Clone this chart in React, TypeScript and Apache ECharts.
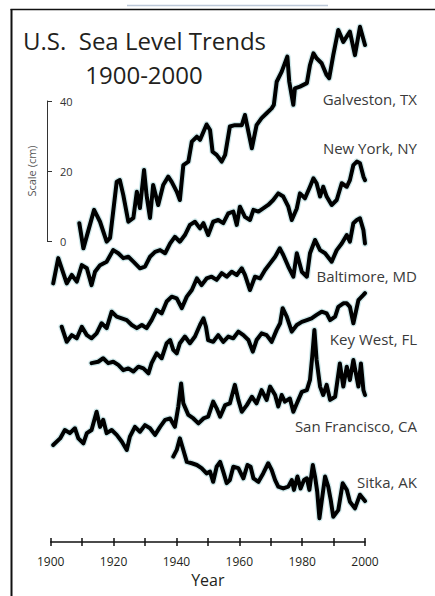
import React, { useEffect, useRef } from 'react';
import * as echarts from 'echarts';

// Station names (top to bottom) and the vertical offsets (cm) used to stack them
const stationNames = ['Galveston, TX', 'New York, NY', 'Baltimore, MD', 'Key West, FL', 'San Francisco, CA', 'Sitka, AK'];
const stationOffsets = [0, -10, -25, -35, -55, -65];

// Relative sea level readings [year, cm]
const galveston: number[][] = [
  [1909.1, 5.1], [1910.4, -2.1], [1913.8, 8.9], [1915.7, 5.5], [1917.8, -0.2], [1918.9, 0.9], [1921.0, 16.9],
  [1922.0, 17.4], [1923.1, 13.1], [1924.7, 5.5], [1926.3, 6.6], [1927.4, 14.1], [1928.4, 9.4], [1929.7, 20.3],
  [1930.5, 13.1], [1931.6, 6.6], [1932.6, 16.0], [1934.2, 10.3], [1935.8, 16.0], [1937.4, 18.4], [1938.5, 16.9],
  [1940.1, 14.1], [1941.1, 11.7], [1942.2, 21.7], [1943.8, 22.7], [1944.9, 28.4], [1946.5, 29.8], [1947.5, 28.9],
  [1949.6, 33.3], [1950.7, 31.7], [1951.5, 25.5], [1952.8, 24.6], [1954.4, 22.7], [1955.5, 24.6], [1957.0, 32.7],
  [1958.6, 33.1], [1960.8, 33.1], [1961.8, 36.0], [1964.0, 26.5], [1965.5, 33.1], [1967.1, 35.1], [1968.7, 36.5],
  [1970.3, 37.9], [1971.0, 38.9], [1971.9, 45.5], [1973.5, 48.4], [1975.3, 52.7], [1975.9, 45.5], [1977.2, 38.9],
  [1977.7, 43.6], [1979.3, 44.1], [1981.5, 45.1], [1982.5, 50.3], [1983.6, 53.6], [1984.6, 52.2], [1986.2, 50.8],
  [1987.8, 47.4], [1988.6, 46.5], [1989.9, 53.1], [1991.5, 60.3], [1993.1, 56.9], [1995.2, 59.8], [1996.8, 53.1],
  [1998.4, 61.2], [2000.0, 56.0],
];

const newYork: number[][] = [
  [1900.8, -2.1], [1902.4, 5.1], [1904.0, 0.8], [1905.1, -2.1], [1906.7, 0.3], [1908.3, -1.6], [1909.9, 3.1],
  [1911.5, 2.2], [1913.0, -2.6], [1914.1, 1.2], [1915.7, 3.1], [1917.8, 4.1], [1919.9, 7.4], [1921.5, 6.5],
  [1923.1, 5.1], [1924.7, 5.5], [1926.3, 4.1], [1928.4, 2.2], [1930.0, 2.7], [1931.6, 5.5], [1933.2, 6.9],
  [1934.8, 7.4], [1936.4, 6.5], [1938.0, 9.3], [1939.5, 11.2], [1941.1, 9.8], [1942.7, 11.7], [1944.3, 14.6],
  [1945.9, 15.5], [1947.5, 13.6], [1948.6, 15.1], [1950.1, 11.7], [1951.7, 15.5], [1953.3, 16.0], [1954.9, 15.1],
  [1956.5, 17.9], [1958.1, 18.4], [1959.2, 14.6], [1960.2, 19.8], [1961.8, 16.9], [1963.4, 16.0], [1964.5, 18.9],
  [1966.1, 18.4], [1967.6, 19.3], [1969.2, 20.3], [1970.8, 21.7], [1972.4, 23.6], [1974.0, 22.7], [1975.6, 19.8],
  [1976.7, 16.0], [1978.3, 19.3], [1979.3, 23.6], [1980.9, 22.2], [1982.5, 25.5], [1983.6, 27.9], [1984.6, 26.5],
  [1985.7, 22.7], [1986.7, 25.5], [1987.8, 22.7], [1989.4, 20.3], [1991.0, 21.7], [1992.6, 26.5], [1994.2, 25.5],
  [1995.2, 27.4], [1996.3, 31.7], [1997.4, 32.7], [1998.4, 32.2], [1999.5, 28.4], [2000.0, 27.4],
];

const baltimore: number[][] = [
  [1903.5, 0.5], [1905.1, -3.8], [1906.7, -1.9], [1908.3, -2.8], [1909.9, 0.5], [1911.5, -1.9], [1913.0, -2.8],
  [1914.6, -1.4], [1916.2, 1.5], [1917.8, 0.1], [1919.4, 4.8], [1921.0, 3.4], [1922.6, 2.9], [1924.2, 2.4],
  [1925.8, 1.0], [1927.4, 0.1], [1929.0, 1.0], [1930.5, 0.1], [1932.1, 2.4], [1933.7, 5.3], [1935.3, 4.3],
  [1936.9, 7.7], [1938.5, 9.1], [1940.1, 8.6], [1941.7, 5.8], [1943.3, 9.1], [1944.9, 11.0], [1946.5, 14.3],
  [1948.0, 12.4], [1949.6, 14.3], [1951.2, 14.8], [1952.8, 13.9], [1954.4, 15.8], [1956.0, 14.8], [1957.6, 16.2],
  [1959.2, 15.3], [1960.8, 17.2], [1961.8, 15.3], [1963.4, 11.0], [1965.0, 14.8], [1966.6, 14.3], [1968.2, 16.7],
  [1969.8, 18.6], [1971.4, 20.5], [1972.9, 22.9], [1974.0, 21.0], [1975.6, 17.7], [1977.2, 14.8], [1978.3, 21.5],
  [1979.9, 16.2], [1981.5, 14.8], [1982.5, 21.5], [1984.1, 25.3], [1985.7, 22.4], [1987.3, 21.5], [1989.4, 19.1],
  [1991.0, 22.4], [1992.6, 24.3], [1994.2, 26.7], [1995.2, 24.8], [1996.3, 30.1], [1997.4, 31.0], [1998.4, 31.5],
  [1999.5, 28.1], [2000.0, 24.3],
];

const keyWest: number[][] = [
  [1913.0, 0.1], [1915.1, 0.5], [1916.7, 1.5], [1918.3, 0.1], [1919.9, 0.5], [1921.5, -0.4], [1923.1, -1.9],
  [1924.7, -1.4], [1926.3, -2.3], [1927.9, -0.9], [1929.5, -1.4], [1931.1, -2.8], [1932.1, 0.1], [1933.7, 2.9],
  [1935.3, 1.5], [1936.9, 5.8], [1938.0, 6.7], [1939.0, 3.9], [1940.1, 2.9], [1941.1, 5.8], [1942.7, 7.7],
  [1944.3, 5.8], [1945.9, 7.7], [1947.5, 11.0], [1948.6, 12.9], [1949.4, 10.5], [1950.1, 6.7], [1951.7, 6.2],
  [1953.3, 8.1], [1954.9, 6.2], [1956.5, 7.7], [1958.1, 7.2], [1959.7, 9.1], [1961.3, 8.1], [1962.9, 6.7],
  [1964.3, 3.4], [1965.5, 6.7], [1967.1, 8.6], [1968.7, 8.1], [1970.3, 6.2], [1971.9, 9.6], [1973.0, 11.5],
  [1973.8, 15.8], [1975.1, 13.4], [1976.7, 9.1], [1978.3, 11.0], [1979.9, 11.9], [1981.5, 12.4], [1983.0, 12.9],
  [1984.6, 13.9], [1986.2, 14.8], [1987.8, 14.3], [1988.9, 12.4], [1990.5, 13.4], [1991.5, 16.2], [1993.1, 17.2],
  [1994.2, 17.2], [1995.2, 16.2], [1996.3, 11.5], [1997.9, 18.1], [1999.5, 19.6], [2000.0, 20.1],
];

const sanFrancisco: number[][] = [
  [1900.8, -3.3], [1903.0, -1.4], [1904.5, 1.0], [1906.1, 0.1], [1907.7, 1.5], [1908.8, -1.4], [1910.4, -2.8],
  [1911.5, 0.1], [1913.0, 1.0], [1914.6, 6.2], [1915.7, 1.9], [1916.7, 3.9], [1917.8, 0.1], [1919.4, 1.0],
  [1921.0, -0.4], [1922.6, -2.3], [1924.2, -4.7], [1925.2, -0.9], [1926.8, 1.9], [1928.4, 0.5], [1930.0, 2.4],
  [1931.6, 1.5], [1933.2, -0.4], [1934.8, 1.9], [1936.4, 3.9], [1938.0, 4.3], [1939.5, 1.9], [1940.6, 7.7],
  [1941.5, 14.3], [1942.2, 8.6], [1943.8, 5.3], [1945.4, 4.3], [1947.0, 2.9], [1948.6, 4.3], [1950.1, 4.8],
  [1951.7, 9.1], [1952.8, 7.2], [1953.9, 4.8], [1955.5, 8.1], [1957.0, 8.6], [1958.6, 13.9], [1959.7, 9.6],
  [1960.8, 6.2], [1962.4, 8.1], [1964.0, 10.5], [1965.5, 8.6], [1967.1, 12.4], [1968.7, 9.6], [1969.8, 13.4],
  [1971.4, 11.0], [1972.4, 7.7], [1973.5, 11.0], [1974.5, 9.1], [1976.1, 10.0], [1977.2, 6.2], [1978.3, 8.6],
  [1979.9, 11.9], [1981.5, 12.4], [1982.5, 15.3], [1983.2, 21.9], [1983.9, 29.6], [1984.6, 21.0], [1985.7, 13.4],
  [1986.7, 11.0], [1987.8, 13.9], [1988.9, 9.6], [1990.5, 10.5], [1992.0, 20.0], [1993.1, 13.4], [1994.2, 19.1],
  [1995.2, 15.3], [1996.3, 21.0], [1997.9, 13.4], [1998.7, 20.0], [1999.5, 12.4], [2000.0, 11.0],
];

const sitka: number[][] = [
  [1939.0, 3.4], [1940.1, 5.3], [1941.1, 8.6], [1942.2, 5.3], [1943.3, 1.9], [1944.9, 1.5], [1946.5, 1.0],
  [1948.0, 0.1], [1949.6, -1.4], [1950.7, -0.9], [1951.7, -3.8], [1952.8, 0.5], [1953.9, 1.9], [1954.9, -0.9],
  [1956.0, -4.2], [1957.0, -3.3], [1958.1, 0.5], [1959.7, 0.1], [1961.3, -2.8], [1962.6, 1.0], [1963.6, 0.5],
  [1964.5, -2.8], [1966.1, -3.8], [1967.6, -1.4], [1969.2, 1.5], [1970.3, -0.4], [1971.4, -3.3], [1972.4, -5.2],
  [1974.0, -5.7], [1975.6, -5.2], [1976.7, -3.3], [1977.4, -6.1], [1978.5, -2.3], [1979.5, -5.7], [1980.6, -3.3],
  [1981.5, -2.8], [1982.3, -6.1], [1983.4, 1.0], [1984.1, -2.3], [1984.8, -6.6], [1985.5, -14.2], [1986.2, -9.5],
  [1987.3, -2.3], [1988.3, -5.2], [1989.1, -9.0], [1989.9, -13.8], [1991.5, -11.9], [1992.9, -4.2], [1994.2, -6.1],
  [1995.2, -9.5], [1996.8, -11.4], [1998.4, -7.5], [2000.0, -9.3],
];

const stationData = [galveston, newYork, baltimore, keyWest, sanFrancisco, sitka];

// Axis ticks
const yearLabels = [1900, 1920, 1940, 1960, 1980, 2000];
const scaleTicks = [0, 20, 40];

export default function App() {
  const ref = useRef<HTMLDivElement>(null);

  useEffect(() => {
    if (!ref.current) return;
    const chart = echarts.init(ref.current, null, { renderer: 'svg' });
    const font = '"Open Sans", "DejaVu Sans", sans-serif';
    const textColor = '#231f20';

    const series: any[] = [];
    stationData.forEach((d, i) => {
      const data = d.map(([yr, v]) => [yr, v + stationOffsets[i]]);
      series.push({
        type: 'line', name: stationNames[i] + ' halo', data, xAxisIndex: 0, yAxisIndex: 0,
        symbol: 'none', showSymbol: false, silent: true, z: 1,
        lineStyle: { color: '#cfe8ea', width: 6.5, cap: 'round', join: 'round' },
      });
      series.push({
        type: 'line', name: stationNames[i], data, xAxisIndex: 0, yAxisIndex: 0,
        symbol: 'none', showSymbol: false, z: 2,
        lineStyle: { color: '#000000', width: 4, cap: 'round', join: 'round' },
      });
    });

    const labelPos = [
      [417, 99], [417, 148], [417, 276], [417, 339], [417, 426], [417, 482],
    ];

    const graphic: any[] = [
      { type: 'line', shape: { x1: 11.5, y1: 9, x2: 11.5, y2: 596 }, style: { stroke: '#111', lineWidth: 2 }, z: 10 },
      { type: 'line', shape: { x1: 10.5, y1: 9.5, x2: 435, y2: 9.5 }, style: { stroke: '#111', lineWidth: 1.5 }, z: 10 },
      { type: 'line', shape: { x1: 127, y1: 5.5, x2: 328, y2: 5.5 }, style: { stroke: '#bcc8d8', lineWidth: 1.5 }, z: 10 },
      {
        type: 'text', x: 144.5, y: 40, z: 10,
        style: { text: 'U.S.  Sea Level Trends', fontSize: 24, fontFamily: font, fill: textColor, textAlign: 'center', textVerticalAlign: 'middle' },
      },
      {
        type: 'text', x: 144, y: 74, z: 10,
        style: { text: '1900-2000', fontSize: 24, fontFamily: font, fill: textColor, textAlign: 'center', textVerticalAlign: 'middle' },
      },
      ...stationNames.map((name, i) => ({
        type: 'text', x: labelPos[i][0], y: labelPos[i][1], z: 10,
        style: { text: name, fontSize: 15, fontFamily: font, fill: '#3a3a3a', textAlign: 'right', textVerticalAlign: 'middle' },
      })),
    ];

    const option: any = {
      animation: false,
      backgroundColor: '#ffffff',
      grid: [
        { left: 50.7, right: 70, top: 10, bottom: 54, outerBoundsMode: 'none', containLabel: false },
        { left: 47, top: 101, width: 20, height: 140, outerBoundsMode: 'none', containLabel: false },
      ],
      xAxis: [
        {
          gridIndex: 0, type: 'value', min: 1900, max: 2000, interval: 10, position: 'bottom',
          axisLine: { show: true, onZero: false, lineStyle: { color: '#111', width: 1.5 } },
          axisTick: { show: true, inside: false, length: 4, lineStyle: { color: '#111', width: 1.5 } },
          axisLabel: {
            formatter: (v: number) => (yearLabels.includes(v) ? String(v) : ''),
            fontSize: 12, color: textColor, fontFamily: font, margin: 13,
            showMinLabel: true, showMaxLabel: true,
          },
          splitLine: { show: false },
          name: 'Year', nameLocation: 'middle', nameGap: 29,
          nameTextStyle: { fontSize: 16, color: textColor, fontFamily: font },
        },
        {
          gridIndex: 0, type: 'value', min: 1900, max: 2000, interval: 10, position: 'bottom', offset: 0,
          axisLine: { show: false, onZero: false },
          axisTick: { show: true, inside: true, length: 4, lineStyle: { color: '#111', width: 1.5 } },
          axisLabel: { show: false },
          splitLine: { show: false },
        },
        { gridIndex: 1, type: 'value', min: 0, max: 1, show: false, axisLine: { onZero: false } },
      ],
      yAxis: [
        { gridIndex: 0, type: 'value', min: -86, max: 66, show: false },
        {
          gridIndex: 1, type: 'value', min: scaleTicks[0], max: scaleTicks[scaleTicks.length - 1], interval: 20,
          position: 'left',
          axisLine: { show: true, onZero: false, lineStyle: { color: '#333', width: 1 } },
          axisTick: { show: true, inside: true, length: 5, lineStyle: { color: '#333', width: 1 } },
          axisLabel: { inside: true, margin: 13, fontSize: 11, color: '#333', fontFamily: font },
          splitLine: { show: false },
          name: 'Scale (cm)', nameLocation: 'middle', nameRotate: 90, nameGap: 10,
          nameTextStyle: { fontSize: 11, color: '#555', fontFamily: font },
        },
      ],
      series,
      graphic,
    };

    chart.setOption(option);
    return () => chart.dispose();
  }, []);

  return (
    <div
      ref={ref}
      style={{ position: 'fixed', left: 0, top: 0, width: 435, height: 596, background: '#fff' }}
    />
  );
}
